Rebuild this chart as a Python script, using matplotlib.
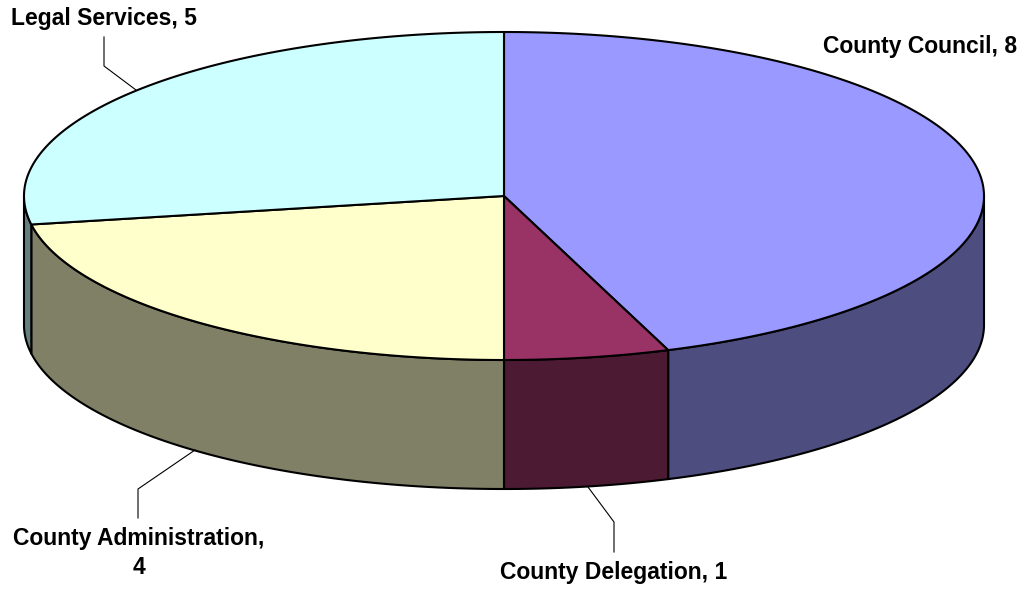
import numpy as np
import matplotlib
matplotlib.use("Agg")
import matplotlib.pyplot as plt

# slices, clockwise from 12 o'clock
categories = ["County Council", "County Delegation", "County Administration", "Legal Services"]
values = [8, 1, 4, 5]

top_colors = ["#9999FF", "#993366", "#FFFFCC", "#CCFFFF"]
side_colors = ["#4D4D80", "#4D1A33", "#808066", "#668080"]

# ellipse geometry in pixels
cx, cy = 504, 196
rx, ry = 480, 164
depth = 129
lw = 1.5

plt.rcParams['font.family'] = ['Liberation Sans', 'DejaVu Sans']

fig = plt.figure(figsize=(10.23, 5.89), dpi=100)
ax = fig.add_axes([0, 0, 1, 1])
ax.set_xlim(0, 1023)
ax.set_ylim(589, 0)
ax.axis("off")


def rim(a0, a1, n=200):
    t = np.radians(np.linspace(a0, a1, n))
    return cx + rx * np.sin(t), cy - ry * np.cos(t)


edges = np.concatenate([[0], np.cumsum(values)]) / sum(values) * 360.0

# sides first, only the front half of the rim is visible (90 to 270 deg)
for i in range(len(values)):
    a0, a1 = max(edges[i], 90), min(edges[i + 1], 270)
    if a0 >= a1:
        continue
    x, y = rim(a0, a1)
    xs = np.concatenate([x, x[::-1]])
    ys = np.concatenate([y, y[::-1] + depth])
    ax.fill(xs, ys, facecolor=side_colors[i], edgecolor="black", lw=lw, joinstyle="round", zorder=2)

# top faces
for i in range(len(values)):
    x, y = rim(edges[i], edges[i + 1])
    ax.fill(np.concatenate([[cx], x]), np.concatenate([[cy], y]),
            facecolor=top_colors[i], edgecolor="black", lw=lw, joinstyle="round", zorder=3)

# leader lines
ax.plot([104, 104, 136], [37, 66, 90], color="black", lw=0.8, zorder=4)
ax.plot([138, 138, 195], [518, 489, 450], color="black", lw=0.8, zorder=4)
ax.plot([614, 614, 588], [552, 522, 487], color="black", lw=0.8, zorder=4)

# labels
font = dict(fontsize=16.5, fontweight="bold", color="black", zorder=5)
ax.text(104, 18, f"{categories[3]}, {values[3]}", ha="center", va="center", **font)
ax.text(920, 46, f"{categories[0]}, {values[0]}", ha="center", va="center", **font)
ax.text(139, 538, f"{categories[2]},", ha="center", va="center", **font)
ax.text(139, 567, f"{values[2]}", ha="center", va="center", **font)
ax.text(614, 573, f"{categories[1]}, {values[1]}", ha="center", va="center", **font)

fig.savefig("out.png", dpi=100)
